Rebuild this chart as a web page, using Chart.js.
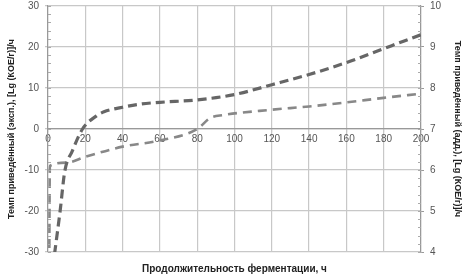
<!DOCTYPE html>
<html>
<head>
    <script src="https://cdn.jsdelivr.net/npm/chart.js@4"></script>
    <style>
        body { margin: 0; background: #fff; }
    </style>
</head>
<body>
    <canvas id="myChart" width="469" height="280"></canvas>
    <script>
        // эксп. (левая ось)
        const xExp = [3.5, 6.5, 9, 13, 18.5, 26, 30, 40, 50, 60, 80, 100, 120, 140, 160, 180, 200];
        const yExp = [-30.5, -20, -10.3, -5.4, 0, 3.2, 4.2, 5.3, 6.1, 6.5, 7.1, 8.4, 10.8, 13.3, 16.2, 19.6, 23];
        // адд. (правая ось)
        const xAdd = [0.6, 1, 10, 20, 40, 60, 80, 87, 94, 120, 140, 160, 180, 200];
        const yAdd = [3, 6.1, 6.18, 6.32, 6.57, 6.72, 7.0, 7.27, 7.34, 7.47, 7.55, 7.65, 7.76, 7.86];

        const xTicks = [0, 20, 40, 60, 80, 100, 120, 140, 160, 180, 200];
        const leftTicks = [-30, -20, -10, 0, 10, 20, 30];
        const rightTicks = [4, 5, 6, 7, 8, 9, 10];

        const fontName = "'Liberation Sans', Arial, sans-serif";
        const tickColor = '#555';
        const gridColor = '#c8c8c8';

        function pts(xs, ys) {
            return xs.map((x, i) => ({ x: x, y: ys[i] }));
        }

        // мелкие засечки внутри области графика
        const minorTicks = {
            id: 'minorTicks',
            afterDatasetsDraw(chart) {
                const c = chart.ctx;
                c.save();
                c.strokeStyle = '#aaa';
                c.lineWidth = 1;
                const y = chart.scales.y, y1 = chart.scales.y1;
                for (let v = -30; v <= 30; v += 2) {
                    const p = Math.round(y.getPixelForValue(v)) + 0.5;
                    c.beginPath(); c.moveTo(y.right, p); c.lineTo(y.right + 3, p); c.stroke();
                }
                for (let v = 4; v <= 10.001; v += 0.2) {
                    const p = Math.round(y1.getPixelForValue(v)) + 0.5;
                    c.beginPath(); c.moveTo(y1.left - 3, p); c.lineTo(y1.left, p); c.stroke();
                }
                c.restore();
            }
        };

        const ctx = document.getElementById('myChart');
        new Chart(ctx, {
            type: 'line',
            data: {
                datasets: [{
                    label: 'эксп.',
                    data: pts(xExp, yExp),
                    yAxisID: 'y',
                    borderColor: '#666',
                    borderWidth: 3.2,
                    borderDash: [9, 5],
                    pointRadius: 0,
                    cubicInterpolationMode: 'monotone',
                    fill: false
                }, {
                    label: 'адд.',
                    data: pts(xAdd, yAdd),
                    yAxisID: 'y1',
                    borderColor: '#888',
                    borderWidth: 2.6,
                    borderDash: [9, 6],
                    pointRadius: 0,
                    cubicInterpolationMode: 'monotone',
                    fill: false
                }]
            },
            plugins: [minorTicks],
            options: {
                responsive: false,
                animation: false,
                maintainAspectRatio: false,
                layout: { padding: { top: 6, left: 6, right: 6, bottom: 0 } },
                plugins: {
                    legend: { display: false },
                    tooltip: { enabled: false },
                    title: {
                        display: true,
                        position: 'bottom',
                        text: 'Продолжительность ферментации, ч',
                        color: '#222',
                        font: { family: fontName, size: 10, weight: 'bold' },
                        padding: { top: 11, bottom: 5 }
                    }
                },
                scales: {
                    x: {
                        type: 'linear',
                        min: 0,
                        max: 200,
                        position: { y: 0 },
                        afterBuildTicks: (s) => { s.ticks = xTicks.map(v => ({ value: v })); },
                        ticks: { color: tickColor, font: { family: fontName, size: 10 }, padding: 1 },
                        grid: { color: gridColor, lineWidth: 1.2, tickLength: 3 },
                        border: { color: '#999', width: 1.2 }
                    },
                    y: {
                        type: 'linear',
                        position: 'left',
                        min: -30,
                        max: 30,
                        afterBuildTicks: (s) => { s.ticks = leftTicks.map(v => ({ value: v })); },
                        afterFit: (s) => { s.width = 42; s.paddingTop = 0; s.paddingBottom = 0; },
                        ticks: { color: tickColor, font: { family: fontName, size: 10 }, padding: 6 },
                        grid: { color: gridColor, lineWidth: 1.2, tickLength: 3 },
                        border: { color: '#999', width: 1.2 },
                        title: {
                            display: true,
                            text: 'Темп приведённый (эксп.), [Lg (КОЕ/г)]/ч',
                            color: '#222',
                            font: { family: fontName, size: 9, weight: 'bold' },
                            padding: 0
                        }
                    },
                    y1: {
                        type: 'linear',
                        position: 'right',
                        min: 4,
                        max: 10,
                        afterBuildTicks: (s) => { s.ticks = rightTicks.map(v => ({ value: v })); },
                        afterFit: (s) => { s.width = 42; s.paddingTop = 0; s.paddingBottom = 0; },
                        ticks: { color: tickColor, font: { family: fontName, size: 10 }, padding: 6 },
                        grid: { drawOnChartArea: false, tickLength: 3, color: '#999' },
                        border: { color: '#999', width: 1.2 },
                        title: {
                            display: true,
                            text: 'Темп приведённый (адд.), [Lg (КОЕ/г)]/ч',
                            color: '#222',
                            font: { family: fontName, size: 9, weight: 'bold' },
                            padding: 0
                        }
                    }
                }
            }
        });
    </script>
</body>
</html>
